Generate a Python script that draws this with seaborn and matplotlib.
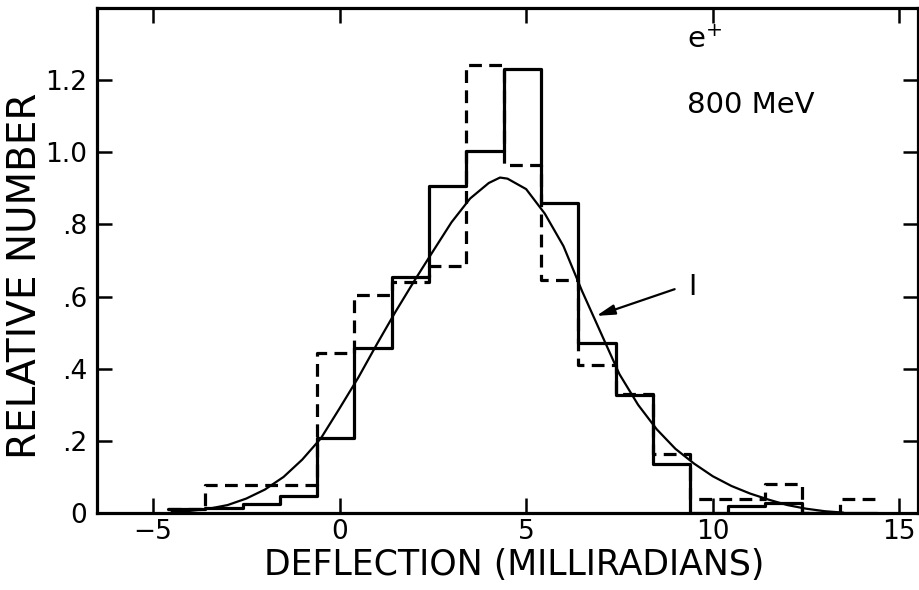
import numpy as np
import pandas as pd
import matplotlib
matplotlib.use("Agg")
import matplotlib.pyplot as plt
import seaborn as sns

# bin edges (milliradians) shared by both histograms
bin_edges = [-4.6, -3.6, -2.6, -1.6, -0.6, 0.4, 1.4, 2.4, 3.4, 4.4, 5.4,
             6.4, 7.4, 8.4, 9.4, 10.4, 11.4, 12.4, 13.4, 14.4]

# solid histogram
solid_heights = [0.012, 0.014, 0.026, 0.046, 0.208, 0.457, 0.655, 0.906, 1.003, 1.23,
                 0.86, 0.47, 0.327, 0.136, 0.0, 0.02, 0.028, 0.0, 0.0]
# dashed histogram
dashed_heights = [0.01, 0.078, 0.078, 0.078, 0.444, 0.604, 0.64, 0.686, 1.242, 0.965,
                  0.646, 0.41, 0.33, 0.163, 0.04, 0.04, 0.08, 0.0, 0.04]

# theory curve "1"
curve_x = [-4.5, -4.0, -3.5, -3.0, -2.5, -2.0, -1.5, -1.0, -0.5, 0.0, 0.5, 1.0, 1.5,
           2.0, 2.5, 3.0, 3.5, 4.0, 4.3, 4.5, 5.0, 5.5, 6.0, 6.5, 7.0, 7.5, 8.0,
           8.5, 9.0, 9.5, 10.0, 10.5, 11.0, 11.5, 12.0, 12.5, 13.0, 13.5]
curve_y = [0.003, 0.006, 0.012, 0.022, 0.04, 0.065, 0.10, 0.148, 0.207, 0.29, 0.375,
           0.468, 0.558, 0.643, 0.725, 0.806, 0.872, 0.915, 0.93, 0.927, 0.898, 0.83,
           0.74, 0.615, 0.50, 0.385, 0.30, 0.232, 0.178, 0.137, 0.102, 0.075, 0.054,
           0.037, 0.022, 0.012, 0.005, 0.001]

x_ticks = [-5, 0, 5, 10, 15]
x_tick_labels = ["\u22125", "0", "5", "10", "15"]
y_ticks = [0, 0.2, 0.4, 0.6, 0.8, 1.0, 1.2]
y_tick_labels = ["0", ".2", ".4", ".6", ".8", "1.0", "1.2"]

sns.set_style("ticks")
plt.rcParams["font.family"] = ["DejaVu Sans"]
plt.rcParams["text.color"] = "black"
plt.rcParams["axes.labelcolor"] = "black"
plt.rcParams["xtick.color"] = "black"
plt.rcParams["ytick.color"] = "black"
plt.rcParams["axes.edgecolor"] = "black"

centers = [(a + b) / 2 for a, b in zip(bin_edges[:-1], bin_edges[1:])]
solid_df = pd.DataFrame({"x": centers, "w": solid_heights})
dashed_df = pd.DataFrame({"x": centers, "w": dashed_heights})
curve_df = pd.DataFrame({"x": curve_x, "y": curve_y})

fig = plt.figure(figsize=(9.2, 5.9), dpi=100)
ax = fig.add_axes([0.1054, 0.1305, 0.8924, 0.8559])

sns.histplot(data=solid_df, x="x", weights="w", bins=bin_edges, element="step",
             fill=False, color="black", linewidth=2.3, ax=ax)
sns.histplot(data=dashed_df, x="x", weights="w", bins=bin_edges, element="step",
             fill=False, color="black", linewidth=2.3, linestyle=(0, (4, 2.3)), ax=ax)
sns.lineplot(data=curve_df, x="x", y="y", color="black", linewidth=1.6, ax=ax)

ax.set_xlim(-6.5, 15.5)
ax.set_ylim(0, 1.40)
ax.set_xticks(x_ticks)
ax.set_xticklabels(x_tick_labels)
ax.set_yticks(y_ticks)
ax.set_yticklabels(y_tick_labels)
ax.tick_params(direction="in", length=11, width=1.8, labelsize=19,
               top=True, right=True, pad=7)
ax.tick_params(axis="x", pad=4)
for s in ax.spines.values():
    s.set_linewidth(2.3)

ax.set_xlabel("DEFLECTION (MILLIRADIANS)", fontsize=25, va="center")
ax.set_ylabel("RELATIVE NUMBER", fontsize=28, va="center")
ax.xaxis.set_label_coords(0.508, -0.103)
ax.yaxis.set_label_coords(-0.088, 0.47)

ax.text(9.3, 1.31, "e$^{+}$", fontsize=21, ha="left", va="center")
ax.text(9.3, 1.13, "800 MeV", fontsize=21, ha="left", va="center")

ax.annotate("", xy=(6.81, 0.544), xytext=(9.05, 0.623),
            arrowprops=dict(arrowstyle="-|>,head_length=1.1,head_width=0.3",
                            color="black", linewidth=1.6))
ax.text(9.45, 0.626, "I", fontsize=20, ha="center", va="center")

fig.savefig("out.png", dpi=100)
